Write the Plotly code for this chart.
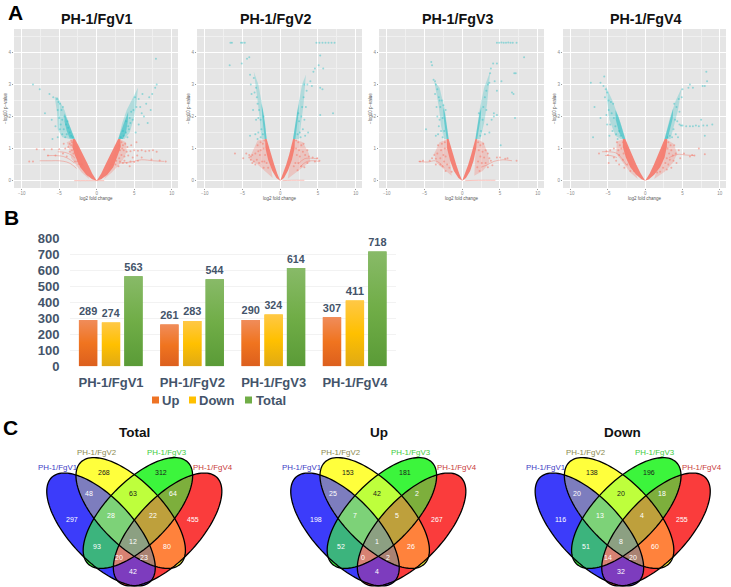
import math
import plotly.graph_objects as go

W, H = 731, 587
FONT = "Liberation Sans, Arial, sans-serif"

# ---------- Panel A: volcano plots (log2 FC, -log10 p)
panel_titles = ["PH-1/FgV1", "PH-1/FgV2", "PH-1/FgV3", "PH-1/FgV4"]

# dense arms of each volcano, outline in data units
v1_red_band = [[(0,0),(-0.6,0.22),(-1.2,0.52),(-1.8,0.82),(-2.4,1.08),(-2.9,1.3),(-3.2,1.3),(-3.25,1.05),(-2.9,0.78),(-2.2,0.42),(-1.4,0.18),(-0.6,0.04)],
               [(0,0),(0.6,0.22),(1.2,0.52),(1.8,0.82),(2.4,1.08),(2.85,1.3),(3.15,1.3),(3.2,1.05),(2.8,0.78),(2.2,0.42),(1.4,0.18),(0.6,0.04)]]
v1_red_fade = [[(-3.0,1.3),(-4,1.2),(-3.6,0.95),(-3.4,0.7),(-2.8,0.5),(-2.0,0.25),(-1,0.05)],
               [(3.0,1.3),(3.9,1.2),(4.0,0.9),(3.5,0.65),(2.8,0.45),(2.0,0.25),(1.0,0.05)]]
v1_teal_band = [[(-2.9,1.3),(-3.4,1.6),(-3.9,1.9),(-4.3,2.1),(-4.3,1.85),(-4.0,1.55),(-3.6,1.32)],
                [(2.85,1.3),(3.3,1.6),(3.8,1.9),(4.2,2.15),(4.15,1.85),(3.9,1.5),(3.5,1.3)]]
v1_teal_fade = [[(-3.0,1.3),(-3.6,1.75),(-4.3,2.2),(-5.2,2.6),(-5.6,2.6),(-5.3,2.15),(-5.2,1.6),(-4.6,1.35),(-3.6,1.3)],
                [(2.9,1.3),(3.4,1.8),(4.0,2.2),(4.9,2.65),(5.5,2.9),(5.3,2.4),(4.9,1.9),(4.4,1.5),(3.7,1.3)]]
v1_streaks = [[(-7.6,0.62),(-6,0.62),(-5,0.62),(-4,0.58),(-3.3,0.5),(-2.7,0.38)],
              [(-6.6,0.78),(-5.4,0.78),(-4.4,0.75),(-3.6,0.66),(-3,0.55)],
              [(-5.2,0.9),(-4.2,0.88),(-3.4,0.8),(-2.9,0.7)],
              [(-3,0),(-1.5,0),(1,0)],
              [(3,0.55),(4.5,0.58),(6,0.65),(7.5,0.62),(9,0.6)]]
v1_teal = [(-8.5,3),(-7.6,2.85),(-6.9,2.1),(-6.0,1.9),(-6.3,2.7),(-5.8,2.6),(-5.3,2.55),(-5.1,2.45),(-4.9,2.4),(-5.2,2.2),(-4.7,2.2),(-4.5,2.3),(-4.3,2.0),(-4.6,1.9),(-4.8,1.75),(-4.1,1.75),(-3.8,1.65),(-4.4,1.6),(-3.6,1.5),(-4.0,1.45),(-3.4,1.4),(-4.6,1.45),(-5.2,1.35),(-5.9,1.3),(-3.2,1.35),(-4.2,1.35),(-5.5,1.7),(-5.0,1.95),(-4.9,1.6),(-3.9,1.85),
           (3.2,1.35),(3.6,1.4),(3.9,1.5),(4.1,1.35),(4.3,1.6),(4.5,1.8),(4.8,1.9),(5.2,1.5),(5.6,1.75),(6,2.1),(6.3,2.0),(6.6,2.4),(7,2.6),(7.2,2.2),(7.4,2.7),(7.8,2.9),(8,3.0),(7.9,3.8),(6.8,1.8),(5.3,2.3),(5.1,2.6),(5.6,2.55),(6.1,2.7),(5.8,2.3),(4.9,2.2),(4.6,2.15),(4.4,1.95),(4.2,1.7),(3.9,1.85),(3.5,1.55)]
v1_red = [(3.3,1.2),(3.5,1.1),(3.8,1.15),(4.1,1.05),(3.6,.95),(4.0,.9),(4.5,.92),(5.0,.95),(5.5,.93),(6,.95),(6.5,.92),(7,.93),(7.5,.95),(8,.9),(3.3,.8),(3.7,.75),(4.2,.78),(4.8,.72),(5.4,.78),(6.0,.72),(3.1,.6),(3.5,.55),(4,.55),(4.5,.6),(5,.58),(5.5,.62),(7.3,.66),(8.4,.63),(9.2,.6),(3.4,1.0),(4.6,1.1),(5.3,1.2),(3.1,.95),(3.0,.7),(4.4,.45),(2.9,.45),(2.6,.62),(2.5,.5),(3.0,1.1),(3.7,.62),
          (-3.3,1.2),(-3.4,1.1),(-3.8,1.05),(-3.3,.95),(-4.2,1.0),(-5,.98),(-6,.98),(-7,.97),(-8,.98),(-3.6,.9),(-4.5,.85),(-5.5,.78),(-6.5,.78),(-8.5,.6),(-9,.6),(-4,.75),(-3.1,.85),(-2.9,.6),(-2.6,.6),(-3.4,1.25),(-4.4,1.15),(-2.4,.52),(-3.6,1.15),(-2.0,.5)]

v2_red_band = [[(0,0),(-0.4,0.22),(-0.8,0.5),(-1.2,0.82),(-1.5,1.08),(-1.8,1.3),(-2.0,1.3),(-1.95,1.0),(-1.6,0.65),(-1.1,0.32),(-0.5,0.08)],
               [(0,0),(0.4,0.22),(0.8,0.5),(1.2,0.82),(1.45,1.08),(1.7,1.3),(1.95,1.3),(1.9,1.0),(1.55,0.65),(1.05,0.32),(0.5,0.08)]]
v2_red_fade = [[(-1.9,1.3),(-3,1.25),(-3.8,.85),(-4,.65),(-3,.5),(-2,.3),(-1,.08)],
               [(1.8,1.3),(3,1.2),(3.8,.85),(4,.6),(3,.42),(2,.25),(1,.06)]]
v2_teal_band = [[(-1.8,1.3),(-2.0,1.75),(-2.3,2.2),(-2.5,2.4),(-2.4,2.05),(-2.2,1.65),(-2.05,1.3)],
                [(1.7,1.3),(1.95,1.7),(2.25,2.15),(2.45,2.4),(2.4,2.05),(2.2,1.65),(2.0,1.3)]]
v2_teal_fade = [[(-1.8,1.3),(-2.2,2.1),(-2.9,3.0),(-3.5,3.4),(-3.0,2.5),(-2.7,1.9),(-2.5,1.3)],
                [(1.7,1.3),(2.2,2.1),(2.9,3.0),(3.4,3.3),(3.1,2.4),(2.8,1.8),(2.5,1.3)]]
v2_streaks = [[(0.3,0),(1.5,0.01),(3.2,0.01)],
              [(2.6,0.42),(3.4,0.58),(4.2,0.62),(5.2,0.6)],
              [(2.4,0.52),(3.2,0.68),(4.0,0.7),(5.0,0.68)]]
v2_teal = [(-6.6,4.3),(-6.4,4.3),(-5.2,4.3),(-5.0,4.3),(-4.7,4.3),(-6.7,3.6),(-5.1,3.65),(-4.4,3.8),(-4.1,3.85),(-4.0,3.3),(-3.9,3.0),(-3.5,3.2),(-3.2,2.9),(-3.4,2.75),(-3.1,2.6),(-3.8,2.7),(-3.0,2.4),(-2.8,2.2),(-2.9,1.95),(-2.6,1.9),(-3.6,2.2),(-3.2,1.9),(-2.5,1.6),(-2.9,1.5),(-3.3,1.45),(-2.3,1.45),(-4.0,1.4),(-2.6,1.35),(-3.0,1.3),(-2.2,2.0),
           (4.8,4.3),(5.2,4.3),(5.6,4.3),(6,4.3),(6.4,4.3),(6.8,4.3),(7.2,4.3),(5.1,3.6),(5.7,3.5),(5.3,3.9),(4.6,3.5),(4.4,3.4),(4.0,3.1),(3.6,3.0),(4.2,2.95),(3.5,2.8),(3.2,3.0),(3.1,2.6),(3.4,2.3),(2.9,2.3),(2.8,2.0),(3.2,1.9),(2.5,1.85),(3.0,1.6),(2.6,1.5),(2.3,1.45),(3.3,1.4),(5.3,2.9),(5.6,2.85),(7,2.1),(5.3,2.05),(2.7,1.35),(3.7,1.5),(2.4,2.1)]
v2_red = [(-2.1,1.25),(-2.3,1.15),(-2.6,1.2),(-2.2,1.0),(-2.6,.95),(-3,1.1),(-3.3,.85),(-3.7,.8),(-4.1,.8),(-4.5,.85),(-4.9,.7),(-3.9,.65),(-3.5,.6),(-3.1,.65),(-2.8,.55),(-2.4,.6),(-2.7,.8),(-2.0,.8),(-3.3,.5),(-3.9,.75),(-1.8,.55),(-2.2,.4),(-3.7,.55),(-4.1,.72),(-2.9,.92),(-2.1,.6),(-1.6,.4),
          (2.1,1.25),(2.4,1.2),(2.8,1.1),(3.1,1.15),(2.1,1.0),(2.5,.95),(3.0,.9),(3.6,.95),(3.3,.8),(3.8,.75),(2.6,.75),(2.2,.8),(4.3,.72),(4.9,.7),(4.6,.6),(2.0,.55),(2.4,.55),(2.8,.45),(1.8,.45),(2.3,.32),(3.2,.42),(5.2,.62),(3.6,.55),(-6.0,.85)]

v3_red_band = [[(0,0),(-0.4,0.22),(-0.8,0.5),(-1.2,0.82),(-1.5,1.08),(-1.8,1.3),(-2.05,1.3),(-2.0,1.0),(-1.6,0.62),(-1.1,0.3),(-0.5,0.08)],
               [(0,0),(0.4,0.22),(0.8,0.5),(1.2,0.82),(1.5,1.08),(1.75,1.3),(1.95,1.3),(1.85,1.0),(1.5,0.62),(1.05,0.3),(0.5,0.08)]]
v3_red_fade = [[(-1.9,1.3),(-3,1.2),(-3.7,.85),(-3.4,.55),(-2.4,.35),(-1.4,.15)],
               [(1.85,1.3),(2.8,1.2),(3.4,.85),(3.6,.55),(2.7,.3),(1.6,.15)]]
v3_teal_band = [[(-1.8,1.3),(-2.05,1.7),(-2.3,2.1),(-2.55,2.3),(-2.45,1.95),(-2.25,1.6),(-2.05,1.3)],
                [(1.75,1.3),(2.0,1.7),(2.3,2.1),(2.55,2.3),(2.45,1.95),(2.2,1.6),(1.98,1.3)]]
v3_teal_fade = [[(-1.8,1.3),(-2.3,2.2),(-3.0,2.9),(-3.7,3.1),(-3.1,2.3),(-2.8,1.7),(-2.4,1.3)],
                [(1.75,1.3),(2.3,2.2),(2.9,2.9),(3.7,3.4),(3.3,2.4),(2.9,1.8),(2.4,1.3)]]
v3_streaks = [[(-5.8,0.6),(-4.6,0.58),(-3.6,0.62),(-3.0,0.55),(-2.4,0.4)],
              [(2.5,0.42),(3.4,0.5),(4.2,0.6),(5.4,0.65),(6.6,0.62)],
              [(0.4,0),(2.2,0.01),(4.4,0.01)]]
v3_teal = [(-4.0,3.6),(-4.1,3.7),(-3.8,3.15),(-3.6,3.1),(-3.5,3.0),(-3.3,2.85),(-3.6,2.7),(-3.1,2.6),(-3.0,2.5),(-3.4,2.3),(-2.9,2.3),(-2.7,2.5),(-3.0,1.9),(-2.6,1.95),(-3.1,1.7),(-2.8,1.55),(-2.4,1.55),(-3.2,1.45),(-4.8,1.6),(-2.6,1.35),(-3.3,2.0),(-2.2,2.2),(-3.5,1.4),(-2.5,2.35),
           (4.6,4.3),(4.9,4.3),(5.2,4.31),(5.5,4.3),(5.8,4.3),(6.1,4.31),(6.4,4.3),(6.7,4.3),(7.2,4.3),(6.9,3.35),(7.1,3.35),(8.2,3.85),(4.6,3.65),(4.1,3.65),(3.8,3.5),(3.7,3.35),(4.3,3.1),(3.4,3.0),(3.6,3.05),(5.2,3.1),(3.2,2.8),(3.0,2.6),(6.6,2.75),(6.8,2.7),(4.6,2.8),(2.8,2.3),(3.2,2.2),(4.2,2.1),(4.6,2.05),(4.2,2.0),(2.7,1.9),(3.3,1.75),(2.5,1.55),(3.0,1.45),(2.4,1.4),(3.6,1.5),(7,1.95),(5.1,1.1),(2.2,2.1),(3.9,1.9)]
v3_red = [(-2.3,1.2),(-2.7,1.15),(-3.2,1.1),(-2.3,1.0),(-2.8,.95),(-3.3,.85),(-2.5,.8),(-3.7,.8),(-2.2,.75),(-2.9,.7),(-3.5,.68),(-4.0,.7),(-2.4,.6),(-2.0,.5),(-2.9,.5),(-2.6,.45),(-1.7,.4),(-2.2,.3),(-1.4,.28),(-3.5,.5),(-4.3,.62),(-5.2,.62),(-5.6,.6),
          (2.1,1.2),(2.4,1.1),(2.8,1.15),(2.2,.95),(2.7,.9),(3.1,.95),(3.4,.85),(2.4,.75),(2.9,.72),(3.6,.7),(2.1,.6),(2.6,.55),(3.1,.55),(4.6,.72),(5.0,.72),(5.7,.68),(6.0,.7),(2.0,.42),(2.3,.3),(3.4,.42),(4.0,.48),(7.2,.62),(3.8,.62)]

v4_red_band = [[(0,0),(-0.6,0.22),(-1.2,0.5),(-1.8,0.82),(-2.3,1.08),(-2.67,1.3),(-3.0,1.3),(-3.0,1.05),(-2.6,0.72),(-2.0,0.42),(-1.2,0.18),(-0.5,0.04)],
               [(0,0),(0.6,0.22),(1.2,0.52),(1.7,0.82),(2.2,1.08),(2.6,1.3),(2.95,1.3),(2.9,1.05),(2.6,0.72),(2.0,0.42),(1.2,0.18),(0.5,0.04)]]
v4_red_fade = [[(-2.8,1.3),(-3.8,1.22),(-3.9,.85),(-3.0,.55),(-2,.25),(-1,.05)],
               [(2.75,1.3),(3.8,1.15),(4.3,.85),(3.7,.55),(2.6,.28),(1.2,.05)]]
v4_teal_band = [[(-2.67,1.3),(-3.1,1.6),(-3.6,2.0),(-4.0,2.2),(-3.95,1.9),(-3.5,1.5),(-3.0,1.3)],
                [(2.6,1.3),(3.0,1.65),(3.4,2.0),(3.75,2.25),(3.7,1.95),(3.35,1.6),(3.0,1.3)]]
v4_teal_fade = [[(-2.67,1.3),(-3.3,1.8),(-4.4,2.5),(-5.3,2.95),(-5.1,2.45),(-4.8,1.9),(-4.0,1.4),(-3.3,1.3)],
                [(2.6,1.3),(3.3,1.95),(4.1,2.5),(4.9,2.9),(4.4,2.2),(3.9,1.7),(3.4,1.3)]]
v4_streaks = [[(-5.8,0.9),(-4.8,0.9),(-3.8,0.85),(-3.0,0.65),(-2.5,0.48)],
              [(-5.4,0.78),(-4.6,0.78),(-3.8,0.72)],
              [(3.2,0.72),(4.4,0.82),(5.4,0.8),(6.6,0.78)]]
v4_teal = [(-7.3,3.05),(-6.0,3.05),(-5.5,3.25),(-5.6,2.95),(-5.3,2.85),(-5.1,2.75),(-5.4,2.6),(-4.9,2.5),(-4.6,2.45),(-4.3,2.4),(-4.9,2.2),(-4.5,2.1),(-5.2,2.05),(-4.2,1.95),(-4.7,1.75),(-4.0,1.7),(-3.5,1.55),(-4.4,1.55),(-3.9,1.45),(-3.3,1.4),(-4.8,1.4),(-3.7,1.3),(-6.8,2.3),(-6.0,1.95),(-7.0,1.35),(-5.1,1.75),
           (5.8,2.9),(6.0,3.0),(6.4,2.9),(8.2,3.4),(8.3,3.1),(7.7,2.95),(8.0,2.95),(5.0,2.85),(4.9,2.6),(4.5,2.55),(4.2,2.3),(4.6,2.15),(3.9,2.4),(4.0,1.9),(3.8,1.6),(4.3,1.85),(4.6,1.75),(4.8,1.72),(5.0,1.72),(5.5,1.7),(6.4,1.7),(6.8,1.72),(7.2,1.7),(7.8,1.72),(8.3,1.72),(9.0,1.75),(6.0,1.7),(7.5,1.9),(3.3,1.4),(3.6,1.35),(4.1,1.45),(4.4,1.35),(3.0,1.35),(8.0,1.4)]
v4_red = [(-3.0,1.2),(-3.4,1.1),(-3.8,1.2),(-3.2,1.0),(-3.6,.95),(-4.2,1.0),(-4.7,.95),(-5.2,.92),(-2.9,.85),(-3.5,.8),(-4.2,.72),(-5.0,.8),(-3.0,.65),(-3.5,.5),(-2.4,.5),(-2.8,.4),(-2.0,.3),(-6.2,.85),(-4.9,.55),(-1.5,.3),(-3.9,.62),
          (3.1,1.2),(3.4,1.1),(3.0,1.0),(3.5,.95),(3.9,1.1),(3.2,.85),(3.7,.78),(4.1,.85),(4.5,.95),(2.9,.7),(3.3,.65),(3.8,.62),(4.7,.7),(5.2,.85),(6.0,.75),(2.7,.55),(3.1,.5),(2.4,.4),(2.9,.35),(2.0,.28),(1.6,.25),(6.3,.8),(6.6,.78),(7.2,1.0),(8.0,.82),(3.5,.4),(4.2,.55)]

volcanoes = [
    (v1_red_band, v1_red_fade, v1_teal_band, v1_teal_fade, v1_streaks, v1_teal, v1_red),
    (v2_red_band, v2_red_fade, v2_teal_band, v2_teal_fade, v2_streaks, v2_teal, v2_red),
    (v3_red_band, v3_red_fade, v3_teal_band, v3_teal_fade, v3_streaks, v3_teal, v3_red),
    (v4_red_band, v4_red_fade, v4_teal_band, v4_teal_fade, v4_streaks, v4_teal, v4_red),
]
volcano_x_ticks = [-10, -5, 0, 5, 10]
volcano_y_ticks = [0, 1, 2, 3, 4]

# ---------- Panel B: grouped bars
bar_categories = ["PH-1/FgV1", "PH-1/FgV2", "PH-1/FgV3", "PH-1/FgV4"]
up_values = [289, 261, 290, 307]
down_values = [274, 283, 324, 411]
total_values = [563, 544, 614, 718]
bar_y_ticks = [0, 100, 200, 300, 400, 500, 600, 700, 800]

# ---------- Panel C: Venn counts, order: 1,2,3,4,12,23,34,13,24,14,123,234,134,124,1234
venn_regions = ["1","2","3","4","12","23","34","13","24","14","123","234","134","124","1234"]
venn_total = [297,268,312,455,48,63,64,93,80,42,28,22,23,20,12]
venn_up = [198,153,181,267,25,42,2,52,26,4,7,5,2,0,1]
venn_down = [116,138,196,255,20,20,18,51,60,32,13,4,20,14,8]
venn_titles = ["Total", "Up", "Down"]
venn_set_names = ["PH-1/FgV1", "PH-1/FgV2", "PH-1/FgV3", "PH-1/FgV4"]
venn_set_colors = ["#3c3cc4", "#8c8a50", "#3ecb3e", "#c83c3c"]
region_colors = {
    "1": "#3c3cfa", "2": "#ffff3c", "3": "#3cf53c", "4": "#fa3c3c",
    "12": "#7d7dbe", "23": "#beff3c", "34": "#7daf3c", "13": "#3cb47d",
    "24": "#ff823c", "14": "#7d3cbe", "123": "#7dd278", "234": "#bea03c",
    "134": "#d78273", "124": "#aa8273", "1234": "#8ca082",
}
# label offset from the symmetry axis / top of the panel, px
region_label_xy = {
    "1": (-62.7, 104.3), "2": (-30.3, 57.3), "3": (26.7, 57.3), "4": (59, 104.3),
    "12": (-45.3, 78), "23": (-1.3, 78), "34": (39, 78), "13": (-37, 131.7),
    "24": (32.7, 131.7), "14": (-1.7, 156), "123": (-23, 100.7), "234": (19, 100.7),
    "134": (10, 142.7), "124": (-15, 142.7), "1234": (-1.3, 126.7),
}
dark_labels = {"2", "3", "23"}

fig = go.Figure()

# ---------- helpers
def xp(px):
    return px / W

def yp(py):
    return 1 - py / H

def page_text(text, px, py, size, color, bold=False, angle=0):
    fig.add_annotation(
        text=f"<b>{text}</b>" if bold else text, x=xp(px), y=yp(py), xref="paper", yref="paper",
        showarrow=False, xanchor="center", yanchor="middle", textangle=angle,
        font=dict(family=FONT, size=size, color=color),
    )

def add_polys(polys, color, xa, ya):
    for poly in polys:
        fig.add_trace(go.Scatter(x=[p[0] for p in poly], y=[p[1] for p in poly], mode="lines", fill="toself",
                                 fillcolor=color, line=dict(width=0), xaxis=xa, yaxis=ya,
                                 showlegend=False, hoverinfo="skip"))

# ---------- Panel A
panel_boxes = [(14, 178), (197, 362), (379, 544), (563, 726)]
title_centers = [97, 276, 458, 646]
panel_top, panel_bottom = 29, 188
for i, ((left, right), data) in enumerate(zip(panel_boxes, volcanoes)):
    red_band, red_fade, teal_band, teal_fade, streaks, teal, red = data
    ax = "" if i == 0 else str(i + 1)
    xa, ya = f"x{ax}", f"y{ax}"
    fig.add_shape(type="rect", xref="paper", yref="paper", x0=xp(left), x1=xp(right), y0=yp(panel_bottom), y1=yp(panel_top),
                  fillcolor="#e5e5e5", line=dict(width=0), layer="below")
    add_polys(red_fade, "rgba(245,122,108,0.3)", xa, ya)
    add_polys(red_band, "rgba(245,122,108,0.92)", xa, ya)
    for s in streaks:
        fig.add_trace(go.Scatter(x=[p[0] for p in s], y=[p[1] for p in s], mode="lines",
                                 line=dict(color="rgba(245,122,108,0.45)", width=1, shape="spline"),
                                 xaxis=xa, yaxis=ya, showlegend=False, hoverinfo="skip"))
    fig.add_trace(go.Scatter(x=[p[0] for p in red], y=[p[1] for p in red], mode="markers",
                             marker=dict(color="rgba(245,122,108,0.55)", size=2, line=dict(width=0)),
                             xaxis=xa, yaxis=ya, showlegend=False))
    add_polys(teal_fade, "rgba(40,190,195,0.28)", xa, ya)
    add_polys(teal_band, "rgba(40,190,195,0.55)", xa, ya)
    fig.add_trace(go.Scatter(x=[p[0] for p in teal], y=[p[1] for p in teal], mode="markers",
                             marker=dict(color="rgba(40,190,195,0.45)", size=2, line=dict(width=0)),
                             xaxis=xa, yaxis=ya, showlegend=False))
    tick_font = dict(family=FONT, size=4.5, color="#8a8a8a")
    fig.update_layout(**{
        f"xaxis{ax}": dict(domain=[xp(left), xp(right)], anchor=ya, range=[-11.03, 10.84], automargin=False,
                           tickvals=volcano_x_ticks, ticks="outside", ticklen=1, tickcolor="#9a9a9a", tickwidth=0.5,
                           tickfont=tick_font, gridcolor="#ffffff", gridwidth=1, zeroline=False, showline=False,
                           minor=dict(showgrid=True, dtick=2.5, tick0=0, gridcolor="#f0f0f0", gridwidth=0.5),
                           title=dict(text="log2 fold change", font=dict(family=FONT, size=4.5, color="#555555"), standoff=1)),
        f"yaxis{ax}": dict(domain=[yp(panel_bottom), yp(panel_top)], anchor=xa, range=[-0.23, 4.73], automargin=False,
                           tickvals=volcano_y_ticks, ticks="outside", ticklen=1, tickcolor="#9a9a9a", tickwidth=0.5,
                           tickfont=tick_font, gridcolor="#ffffff", gridwidth=1, zeroline=False, showline=False,
                           minor=dict(showgrid=True, dtick=0.5, tick0=0, gridcolor="#f0f0f0", gridwidth=0.5),
                           title=dict(text="\u2212log10 p\u2212value", font=dict(family=FONT, size=4.5, color="#555555"), standoff=1)),
    })
    page_text(panel_titles[i], title_centers[i], 19.3, 14.3, "#111111", bold=True)

# ---------- Panel B
cat_x = list(range(len(bar_categories)))
bar_w = 18.3 / 81.3
bar_offsets = [-0.395, -0.113, 0.163]
bar_names = ["Up", "Down", "Total"]
bar_series = [up_values, down_values, total_values]
bar_mid = ["#ee7325", "#ffc000", "#70ad47"]
bar_grad = [
    [[0, "#dc5f1e"], [0.5, "#f0741f"], [1, "#f08c5a"]],
    [[0, "#e0aa14"], [0.5, "#ffc000"], [1, "#ffc846"]],
    [[0, "#5a9b37"], [0.5, "#70ad47"], [1, "#88ba68"]],
]
TEXT_B = "#44546a"
for name, vals, off, mid, grad in zip(bar_names, bar_series, bar_offsets, bar_mid, bar_grad):
    fig.add_trace(go.Bar(
        x=cat_x, y=vals, name=name, width=bar_w, offset=off, marker=dict(color=mid, line=dict(width=0)),
        text=[f"<b>{v}</b>" for v in vals], textposition="outside", cliponaxis=False,
        textfont=dict(family=FONT, size=13, color=TEXT_B), xaxis="x5", yaxis="y5", showlegend=False,
    ))
    for c, v in zip(cat_x, vals):
        x0, x1 = c + off, c + off + bar_w
        fig.add_trace(go.Scatter(
            x=[x0, x1, x1, x0, x0], y=[0, 0, v, v, 0], mode="lines", line=dict(width=0), fill="toself",
            fillgradient=dict(type="vertical", colorscale=grad), xaxis="x5", yaxis="y5",
            showlegend=False, hoverinfo="skip",
        ))
fig.update_layout(
    xaxis5=dict(domain=[xp(70.4), xp(395.6)], anchor="y5", range=[-0.5, 3.5], tickvals=cat_x, ticktext=[f"<b>{c}</b>" for c in bar_categories],
                automargin=False, tickfont=dict(family=FONT, size=13, color=TEXT_B), showgrid=False, zeroline=False, showline=False,
                ticks="", ticklabelstandoff=7),
    yaxis5=dict(domain=[yp(366.3), yp(238.3)], anchor="x5", range=[0, 800], tickvals=bar_y_ticks,
                ticktext=[f"<b>{v}</b>" for v in bar_y_ticks], automargin=False,
                tickfont=dict(family=FONT, size=13, color=TEXT_B), gridcolor="#f2f2f2", gridwidth=1,
                zeroline=False, showline=False, ticks="", ticklabelstandoff=10),
)
# Legend row of panel B
for name, mid, sq_x, txt_x in zip(bar_names, bar_mid, [152, 189, 245], [170.5, 216.5, 270.5]):
    fig.add_shape(type="rect", xref="paper", yref="paper", x0=xp(sq_x), x1=xp(sq_x + 7), y0=yp(403.5), y1=yp(396.5),
                  fillcolor=mid, line=dict(width=0))
    page_text(name, txt_x, 400, 13, TEXT_B, bold=True)

page_text("A", 15, 12.5, 21, "#000000", bold=True)
page_text("B", 11, 217.5, 21, "#000000", bold=True)
page_text("C", 10.5, 427, 21, "#000000", bold=True)

# ---------- Panel C: 4-set Venn built from four rotated ellipses
def ellipse_points(cx, cy, a, b, deg, n=120):
    t = math.radians(deg)
    pts = []
    for k in range(n):
        u = 2 * math.pi * k / n
        ex, ey = a * math.cos(u), b * math.sin(u)
        pts.append((cx + ex * math.cos(t) - ey * math.sin(t), cy + ex * math.sin(t) + ey * math.cos(t)))
    return pts

def clip_convex(subject, clip):
    # Sutherland-Hodgman clipping of one convex polygon by another
    area = sum(clip[i][0] * clip[(i + 1) % len(clip)][1] - clip[(i + 1) % len(clip)][0] * clip[i][1] for i in range(len(clip)))
    sign = 1 if area > 0 else -1
    out = subject
    for i in range(len(clip)):
        a, b = clip[i], clip[(i + 1) % len(clip)]
        inside = lambda p: sign * ((b[0] - a[0]) * (p[1] - a[1]) - (b[1] - a[1]) * (p[0] - a[0])) >= 0
        res = []
        for j in range(len(out)):
            p, q = out[j], out[(j + 1) % len(out)]
            if inside(p):
                res.append(p)
            if inside(p) != inside(q):
                d1 = (b[0] - a[0]) * (p[1] - a[1]) - (b[1] - a[1]) * (p[0] - a[0])
                d2 = (b[0] - a[0]) * (q[1] - a[1]) - (b[1] - a[1]) * (q[0] - a[0])
                s = d1 / (d1 - d2)
                res.append((p[0] + s * (q[0] - p[0]), p[1] + s * (q[1] - p[1])))
        out = res
        if not out:
            break
    return out

def path_of(pts):
    return "M" + "L".join(f"{xp(x):.5f},{yp(y):.5f}" for x, y in pts) + "Z"

venn_axes = [134.3, 378.3, 622.7]
venn_top = 415
venn_counts = [venn_total, venn_up, venn_down]
venn_title_x = [134, 378.5, 622.5]
ELL = [(-33.3, 114.5, 71.7, 31.5, 46.7), (-3.6, 98, 71.2, 31.5, 45.5), (3.6, 98, 71.2, 31.5, -45.5), (33.3, 114.5, 71.7, 31.5, -46.7)]
NAME_X = [(-77, 52.5), (-37.5, 37.5), (32.5, 37.5), (79, 52.5)]
for axis_x, counts, title, tx in zip(venn_axes, venn_counts, venn_titles, venn_title_x):
    ellipses = [ellipse_points(axis_x + e[0], venn_top + e[1], e[2], e[3], e[4]) for e in ELL]
    for region in sorted(venn_regions, key=len):
        poly = ellipses[int(region[0]) - 1]
        for ch in region[1:]:
            poly = clip_convex(poly, ellipses[int(ch) - 1])
        fig.add_shape(type="path", xref="paper", yref="paper", path=path_of(poly),
                      fillcolor=region_colors[region], line=dict(width=0), layer="below")
    for ell in ellipses:
        fig.add_shape(type="path", xref="paper", yref="paper", path=path_of(ell), line=dict(color="#000000", width=1.3))
    for region, n in zip(venn_regions, counts):
        dx, dy = region_label_xy[region]
        page_text(str(n), axis_x + dx, venn_top + dy, 7, "#1a1a1a" if region in dark_labels else "#ffffff")
    for name, color, (dx, dy) in zip(venn_set_names, venn_set_colors, NAME_X):
        page_text(name, axis_x + dx, venn_top + dy, 7.9, color)
    page_text(title, tx, 432, 13.5, "#111111", bold=True)

fig.update_layout(
    template="none", width=W, height=H, autosize=False, margin=dict(l=0, r=0, t=0, b=0),
    paper_bgcolor="#ffffff", plot_bgcolor="rgba(0,0,0,0)", showlegend=False, font=dict(family=FONT),
    barmode="overlay",
)
fig.write_html("out.html", config={"displayModeBar": False},
               post_script="document.body.style.margin='0';")
